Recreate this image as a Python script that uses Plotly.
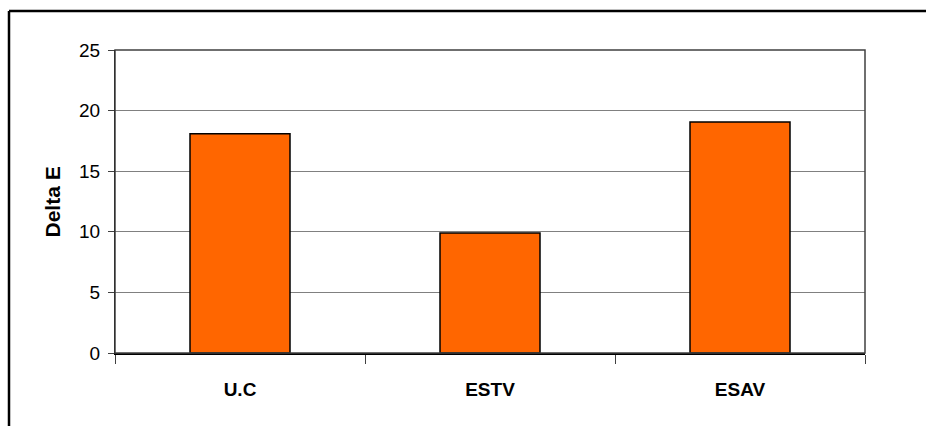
import plotly.graph_objects as go

categories = ["U.C", "ESTV", "ESAV"]
delta_e = [18.1, 9.9, 19.05]
y_ticks = [0, 5, 10, 15, 20, 25]

W, H = 926, 426
L, T, R, B = 115, 50, 61, 73
pw, ph = W - L - R, H - T - B

def px_x(x):
    return (x - L) / pw

def px_y(y):
    return (H - B - y) / ph

fig = go.Figure(go.Bar(
    x=categories, y=delta_e,
    marker=dict(color="#FF6600", line=dict(color="#000000", width=1.5)),
))

fig.update_layout(
    width=W, height=H,
    margin=dict(l=L, r=R, t=T, b=B, autoexpand=False),
    paper_bgcolor="white", plot_bgcolor="white",
    bargap=0.6, showlegend=False,
    font=dict(family="Liberation Sans, Arial, sans-serif", color="black"),
)

fig.update_xaxes(
    tickson="boundaries", ticks="outside", ticklen=9, tickcolor="#404040",
    showline=True, linecolor="black", linewidth=1.5,
    tickfont=dict(size=19, family="Liberation Sans, Arial, sans-serif"),
    ticklabelstandoff=18,
    tickprefix="<b>", ticksuffix="</b>",
    showgrid=False,
)
fig.update_yaxes(
    range=[0, 25], tickvals=y_ticks, ticks="outside", ticklen=6, tickcolor="#404040",
    showline=True, linecolor="black", linewidth=1,
    showgrid=True, gridcolor="#808080", gridwidth=1,
    zeroline=False,
    tickfont=dict(size=19),
    ticklabelstandoff=4,
)

# plot-area border (top and right)
fig.add_shape(type="rect", xref="paper", yref="paper", x0=0, x1=1, y0=0, y1=1,
              line=dict(color="#404040", width=1.5), layer="above")
# chart-area border: only left and top edges are inside the picture
fig.add_shape(type="line", xref="paper", yref="paper",
              x0=px_x(9), x1=px_x(1200), y0=px_y(11), y1=px_y(11),
              line=dict(color="black", width=2.5))
fig.add_shape(type="line", xref="paper", yref="paper",
              x0=px_x(9), x1=px_x(9), y0=px_y(11), y1=px_y(700),
              line=dict(color="black", width=2.5))

fig.add_annotation(text="<b>Delta E</b>", textangle=-90, xref="paper", yref="paper",
                   x=px_x(52), y=0.5, showarrow=False, font=dict(size=21),
                   xanchor="center", yanchor="middle")

fig.write_html("out.html", config={"displayModeBar": False},
               post_script="document.body.style.margin='0';document.body.style.overflow='hidden';document.documentElement.style.overflow='hidden';")
